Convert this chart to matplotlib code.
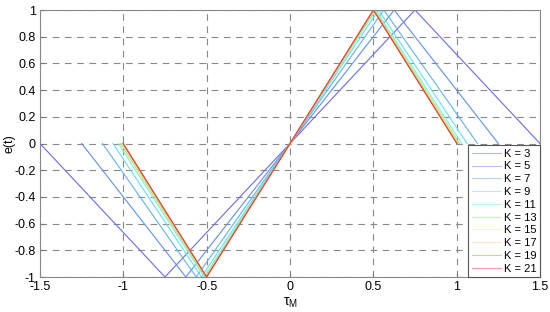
import numpy as np
import matplotlib
matplotlib.use("Agg")
import matplotlib.pyplot as plt

# valores
K = [3, 5, 7, 9, 11, 13, 15, 17, 19, 21]
fim = [1.5, 1.25, 1.125, 1.0625, 1.03, 1.016, 1.008, 1.004, 1.002, 1.001]   # onde a curva volta a zero
pico = [0.75, 0.625, 0.5625, 0.531, 0.515, 0.508, 0.504, 0.502, 0.501, 0.5]  # onde e(t) = +-1
cores = ['#6a6af2', '#5f8ff2', '#62b2f2', '#62e0f2', '#7ef2dc',
         '#96ea80', '#f2f27e', '#f2d088', '#f2843a', '#f23c3c']

plt.rcParams['font.family'] = ['Liberation Sans', 'DejaVu Sans']
plt.rcParams['font.size'] = 9

fig = plt.figure(figsize=(5.5, 3.12), dpi=100)
ax = fig.add_axes([40 / 550, 35 / 312, 500 / 550, 267 / 312])

for k, a, b, c in zip(K, fim, pico, cores):
    xs = [-a, -b, b, a]
    ys = [0, -1, 1, 0]
    ax.plot(xs, ys, color=c, lw=0.8, label='K = %d' % k)

ax.set_xlim(-1.5, 1.5)
ax.set_ylim(-1, 1)
ax.set_xticks(np.arange(-1.5, 1.51, 0.5))
ax.set_xticklabels(['-1.5', '-1', '-0.5', '0', '0.5', '1', '1.5'])
ax.set_yticks(np.arange(-1, 1.01, 0.2))
ax.set_yticklabels(['-1', '-0.8', '-0.6', '-0.4', '-0.2', '0', '0.2', '0.4', '0.6', '0.8', '1'])
ax.grid(True, color='#888888', ls=(0, (6, 5)), lw=0.8)
ax.tick_params(direction='in', length=3, color='#777777', pad=3)
for s in ax.spines.values():
    s.set_color('#888888')
    s.set_linewidth(0.8)

ax.set_xlabel(r'$\mathregular{\tau_M}$', fontsize=10, labelpad=2)
ax.set_ylabel('e(t)', va='center')
ax.yaxis.set_label_coords(-0.062, 0.5)

leg = ax.legend(loc='lower right', fontsize=8, framealpha=1, fancybox=False,
                edgecolor='#555555', borderaxespad=0.0, handlelength=2.6,
                labelspacing=0.25, handletextpad=0.3, borderpad=0.3)
leg.get_frame().set_linewidth(0.8)
for l in leg.get_lines():
    l.set_alpha(0.5)

fig.savefig('out.png', dpi=100)
